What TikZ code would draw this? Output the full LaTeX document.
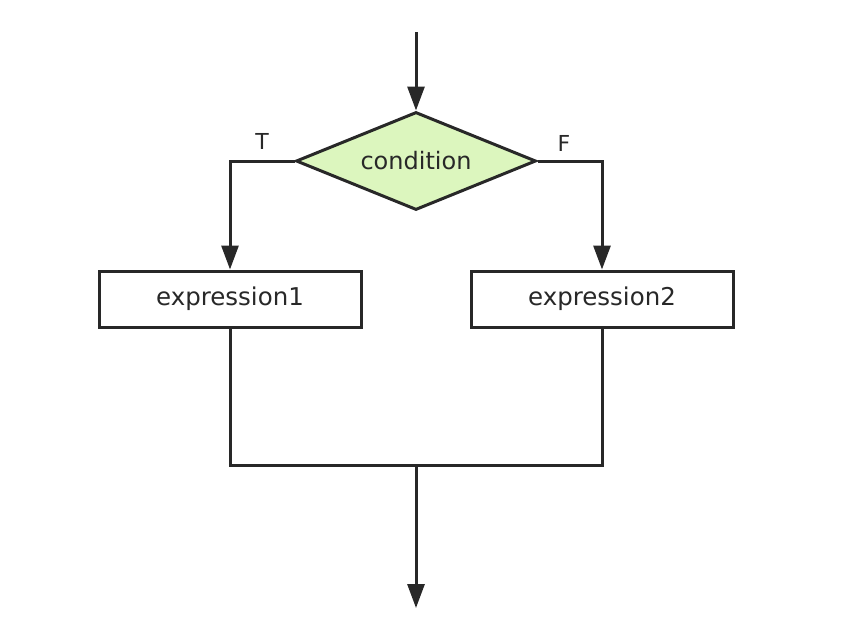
\documentclass[tikz,border=0pt]{standalone}
\usepackage{fontspec}
\setmainfont{DejaVu Sans}
\usetikzlibrary{shapes.geometric,arrows.meta}
\definecolor{ln}{RGB}{40,40,40}
\definecolor{dfill}{RGB}{220,246,190}
\tikzset{
  flow/.style={line width=3pt, draw=ln, -{Triangle[length=24pt,width=17pt]}},
  plain/.style={line width=3pt, draw=ln},
  dec/.style={diamond, draw=ln, line width=3pt, fill=dfill, minimum width=240pt, minimum height=98pt, inner sep=0pt, aspect=2.45, text=ln, font=\fontsize{24}{27}\selectfont},
  box/.style={rectangle, draw=ln, line width=3pt, fill=white, minimum width=262pt, minimum height=56pt, inner sep=0pt, text=ln, font=\fontsize{24.5}{27}\selectfont},
  lbl/.style={font=\fontsize{22}{26}\selectfont, text=ln}
}
\begin{document}
\begin{tikzpicture}[x=1pt,y=-1pt]
\useasboundingbox (0,0) rectangle (846,632);
\node[dec] (c) at (416,161) {condition};
\node[box] (e1) at (230,299) {expression1};
\node[box] (e2) at (602,299) {expression2};
\coordinate (start) at (416,32);
\coordinate (join) at (416,465);
\coordinate (end) at (416,608);
\node[lbl] (t) at (262,141) {T};
\node[lbl] (f) at (564,143) {F};
\draw[flow] (start) -- (c.north);
\draw[flow] (c.west) -| (e1.north);
\draw[flow] (c.east) -| (e2.north);
\draw[plain] (e1.south) |- (join) -| (e2.south);
\draw[flow] (join) -- (end);
\end{tikzpicture}
\end{document}
